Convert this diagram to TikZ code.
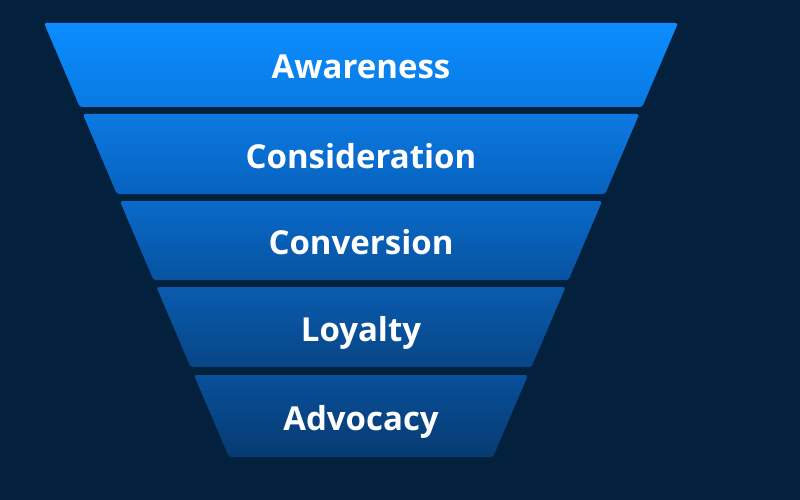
\documentclass[tikz,border=0pt]{standalone}
\usepackage{fontspec}
\setmainfont{Open Sans}
\usepackage{xcolor}
\usepackage{tikz}
\usetikzlibrary{calc}
\definecolor{bgnavy}{HTML}{03203D}
\definecolor{awtop}{HTML}{0B8DFF}
\definecolor{awbot}{HTML}{0A7AE4}
\definecolor{cstop}{HTML}{0C7AE2}
\definecolor{csbot}{HTML}{0762BE}
\definecolor{cvtop}{HTML}{0A6AC9}
\definecolor{cvbot}{HTML}{0753A0}
\definecolor{lytop}{HTML}{0A5BAF}
\definecolor{lybot}{HTML}{074685}
\definecolor{adtop}{HTML}{094F9A}
\definecolor{adbot}{HTML}{063B71}
\tikzset{
  band/.style={rounded corners=2.5pt},
  lbl/.style={text=white,font=\fontsize{33}{40}\selectfont\bfseries,anchor=base,inner sep=0pt},
}

\begin{document}
\begin{tikzpicture}[x=1pt,y=-1pt]
  \fill[bgnavy] (0,0) rectangle (800,500);
  % funnel bands, top to bottom
  \foreach \yt/\yb/\ct/\cb/\nm/\txt in {
      23/107/awtop/awbot/aware/Awareness,
      114/194/cstop/csbot/consid/Consideration,
      201/280/cvtop/cvbot/conver/Conversion,
      287/367/lytop/lybot/loyal/Loyalty,
      375/457/adtop/adbot/advoc/Advocacy}{
    \pgfmathsetmacro{\lt}{44+0.426*(\yt-23)}
    \pgfmathsetmacro{\rt}{678-0.426*(\yt-23)}
    \pgfmathsetmacro{\lb}{44+0.426*(\yb-23)}
    \pgfmathsetmacro{\rb}{678-0.426*(\yb-23)}
    \shade[band,top color=\ct,bottom color=\cb]
      (\lt,\yt) -- (\rt,\yt) -- (\rb,\yb) -- (\lb,\yb) -- cycle;
    \node[lbl] (\nm) at (361,{(\yt+\yb)/2+14}) {\txt};
  }
\end{tikzpicture}
\end{document}
